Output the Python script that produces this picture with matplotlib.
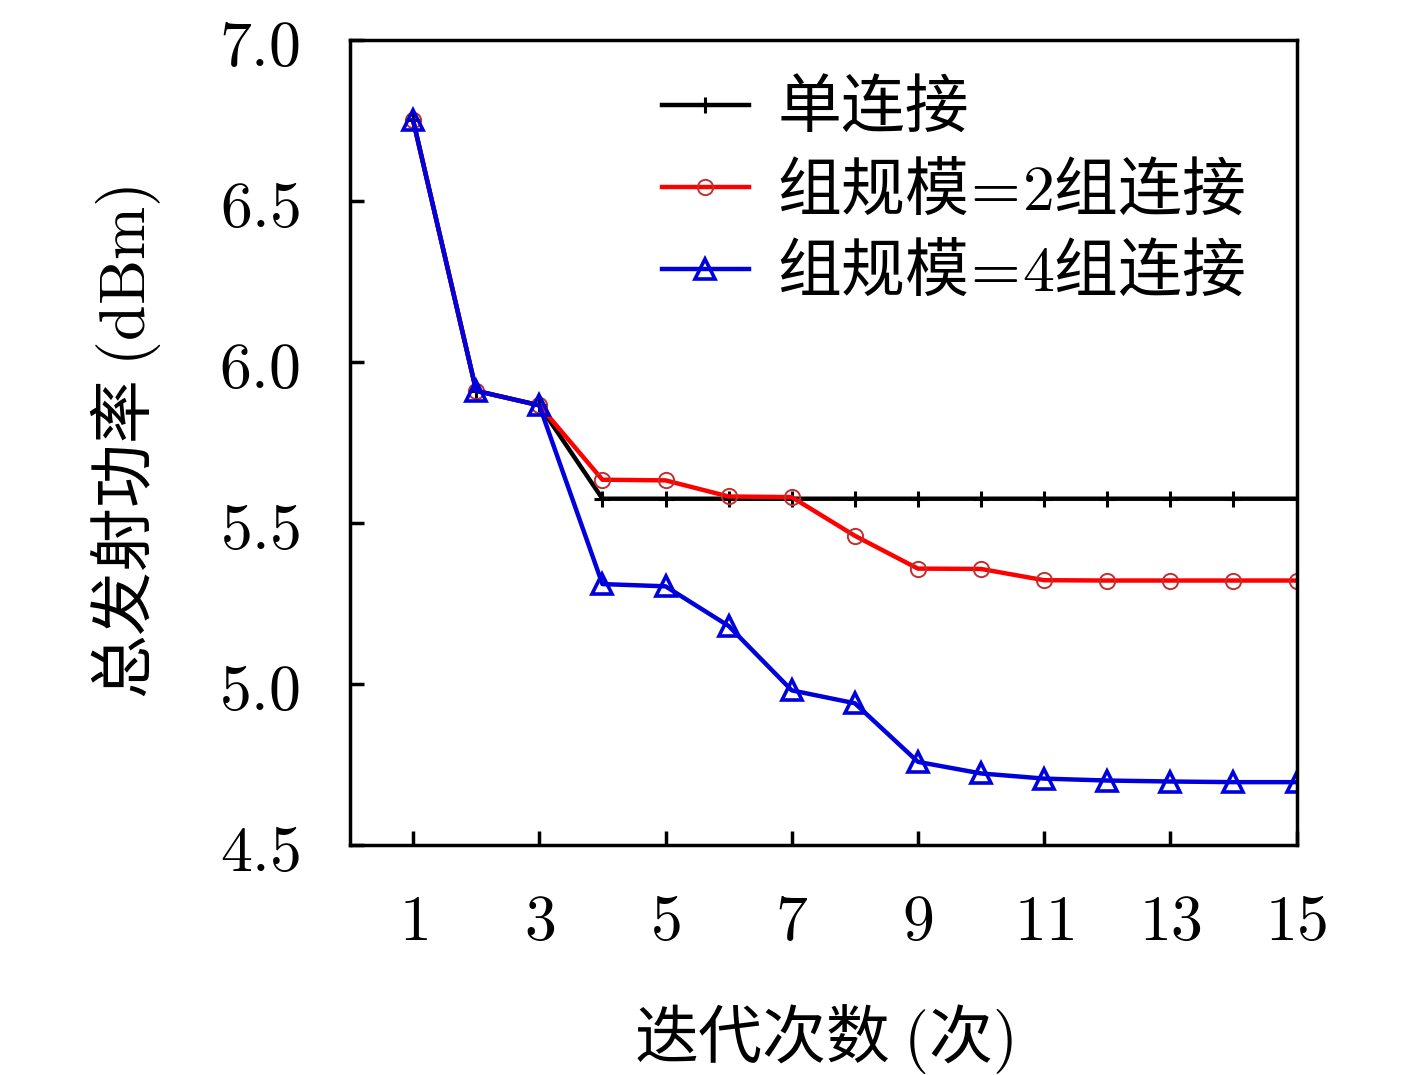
import matplotlib
matplotlib.use('Agg')
import matplotlib.pyplot as plt

plt.rcParams['font.family'] = ['Noto Sans CJK SC', 'DejaVu Sans']
plt.rcParams['mathtext.fontset'] = 'cm'

# dados
iteracoes = list(range(1, 16))
single = [6.75, 5.91, 5.865, 5.575, 5.575, 5.575, 5.575, 5.575, 5.575, 5.575, 5.575, 5.575, 5.575, 5.575, 5.575]
group2 = [6.75, 5.91, 5.865, 5.634, 5.632, 5.582, 5.58, 5.46, 5.358, 5.357, 5.322, 5.321, 5.321, 5.321, 5.321]
group4 = [6.75, 5.91, 5.865, 5.31, 5.303, 5.18, 4.98, 4.94, 4.758, 4.722, 4.706, 4.700, 4.697, 4.695, 4.695]
labels = ['单连接', '组规模$\\!=\\!2$组连接', '组规模$\\!=\\!4$组连接']
xticks = [1, 3, 5, 7, 9, 11, 13, 15]
yticks = [4.5, 5.0, 5.5, 6.0, 6.5, 7.0]

fig = plt.figure(figsize=(14.17, 10.75), dpi=100)
ax = fig.add_axes([0.247, 0.214, 0.668, 0.749])

ax.plot(iteracoes, single, color='black', lw=3.2, marker='+', ms=12, mew=2.2, label=labels[0])
ax.plot(iteracoes, group2, color='red', lw=3.2, marker='o', ms=11, mfc='none', mec='#c03030', mew=1.4, label=labels[1])
ax.plot(iteracoes, group4, color='#0000dd', lw=3.2, marker='^', ms=15, mfc='none', mec='#0000dd', mew=2.6, label=labels[2])

ax.set_xlim(0, 15)
ax.set_ylim(4.5, 7.0)
ax.set_xticks(xticks)
ax.set_xticklabels([f'${v}$' for v in xticks])
ax.set_yticks(yticks)
ax.set_yticklabels([f'${v:.1f}$' for v in yticks])
ax.tick_params(direction='in', length=10, width=2.5, labelsize=46)
ax.tick_params(axis='y', pad=36)
ax.tick_params(axis='x', pad=31)
for s in ax.spines.values():
    s.set_linewidth(2.5)

ax.set_xlabel('迭代次数 $($次$)$', fontsize=46, labelpad=34)
ax.set_ylabel('总发射功率 $(\\mathrm{dBm})$', fontsize=46, labelpad=40)

ax.legend(loc='upper left', bbox_to_anchor=(0.33, 0.955), frameon=False, fontsize=46,
          handlelength=1.35, handletextpad=0.45, labelspacing=0.24, borderaxespad=0, borderpad=0)

fig.savefig('out.png', dpi=100)
